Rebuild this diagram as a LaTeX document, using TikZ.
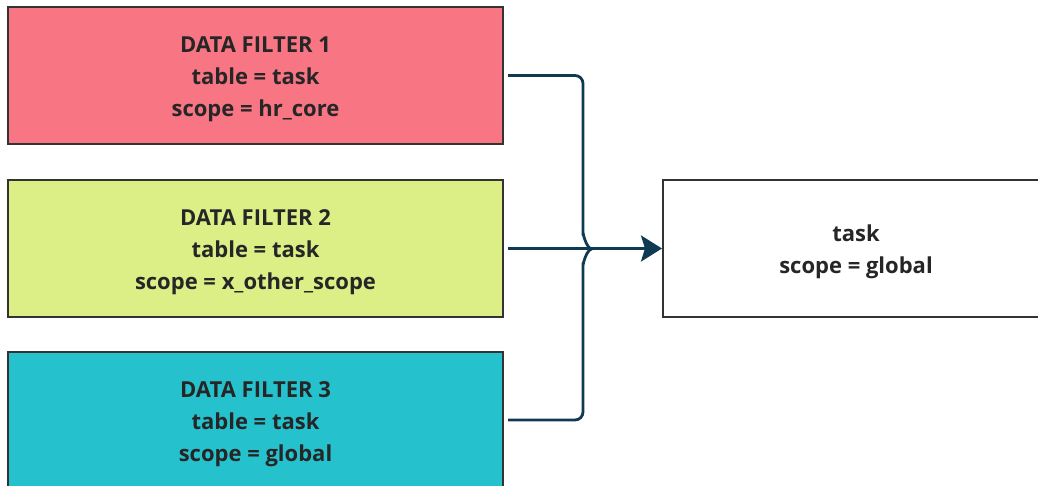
\documentclass[tikz,border=0pt]{standalone}
\usepackage{fontspec}
\setmainfont{Open Sans}
\usetikzlibrary{arrows.meta}
\definecolor{fred}{HTML}{F87583}
\definecolor{fgreen}{HTML}{DCEF87}
\definecolor{fcyan}{HTML}{25C1CD}
\definecolor{edge}{HTML}{333333}
\definecolor{conncol}{HTML}{0F3A52}
\definecolor{txt}{HTML}{262626}
\tikzset{
  filterbox/.style={draw=edge, line width=2pt, minimum width=495pt, minimum height=137pt,
    inner sep=0pt},
  boxtext/.style={align=center, font=\fontsize{22}{32}\selectfont\bfseries, text=txt,
    inner sep=0pt, yshift=-4pt},
  conn/.style={draw=conncol, line width=2.8pt},
}
\begin{document}
\begin{tikzpicture}[x=1pt,y=-1pt]
\useasboundingbox (0,0) rectangle (1038,486);
\node[filterbox, fill=fred, label={[boxtext]center:{DATA FILTER 1\\table = task\\scope = hr\_core}}] (f1) at (255.5,75.5) {};
\node[filterbox, fill=fgreen, label={[boxtext]center:{DATA FILTER 2\\table = task\\scope = x\_other\_scope}}] (f2) at (255.5,248.5) {};
\node[filterbox, fill=fcyan, label={[boxtext]center:{DATA FILTER 3\\table = task\\scope = global}}] (f3) at (255.5,420) {};
\node[filterbox, fill=white, minimum width=386pt, label={[boxtext,yshift=1pt]center:{task\\scope = global}}] (t) at (856,248.5) {};
\coordinate (jt) at (583,240);
\coordinate (jb) at (583,258);
\coordinate (jm) at (592,249);
\draw[conn, rounded corners=8pt] ([xshift=4pt]f1.east) -| (jt) to[out=90,in=180] (jm);
\draw[conn, rounded corners=8pt] ([xshift=4pt]f3.east) -| (jb) to[out=-90,in=180] (jm);
\draw[conn, -{Stealth[length=21pt,width=26pt,inset=4pt]}] ([xshift=4pt]f2.east) -- (t.west);
\end{tikzpicture}
\end{document}
